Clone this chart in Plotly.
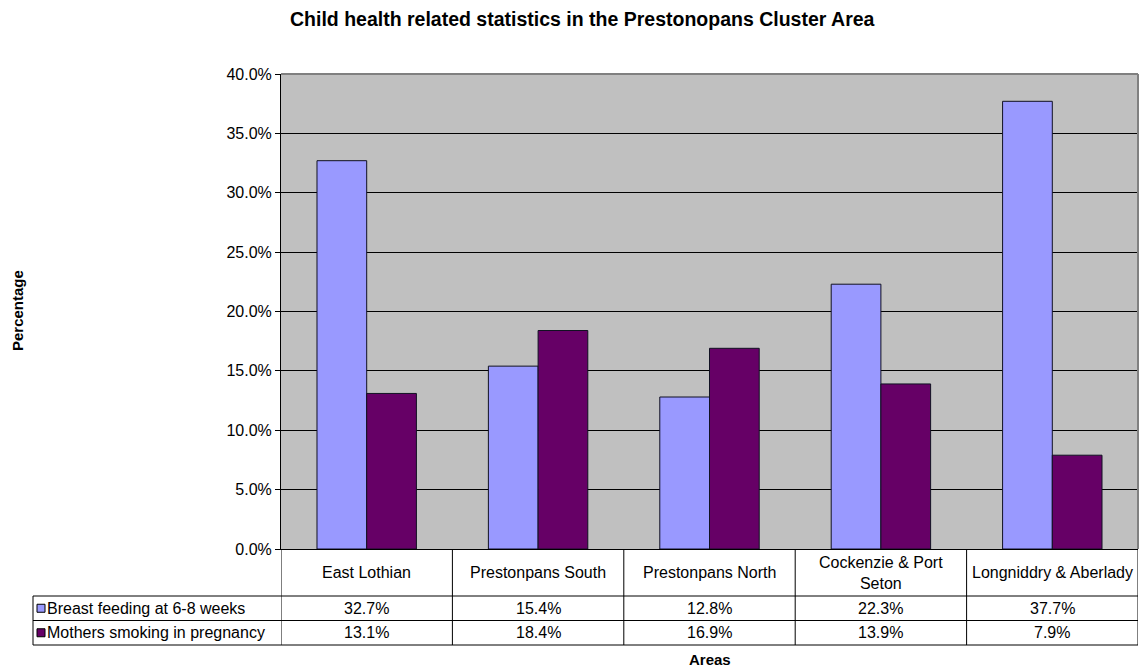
import plotly.graph_objects as go

categories = ["East Lothian", "Prestonpans South", "Prestonpans North",
              "Cockenzie & Port Seton", "Longniddry & Aberlady"]
category_labels = ["East Lothian", "Prestonpans South", "Prestonpans North",
                   "Cockenzie & Port<br>Seton", "Longniddry & Aberlady"]
breast_feeding = [32.7, 15.4, 12.8, 22.3, 37.7]
smoking = [13.1, 18.4, 16.9, 13.9, 7.9]
series_names = ["Breast feeding at 6-8 weeks", "Mothers smoking in pregnancy"]
series_colors = ["#9999FF", "#660066"]
y_ticks = [0, 5, 10, 15, 20, 25, 30, 35, 40]

W, H = 1141, 668
L, R, T, B = 281, 3, 74, 119
plot_h = H - T - B
plot_w = W - L - R
FONT = "Liberation Sans, Arial, sans-serif"


def py(p):
    return (H - B - p) / plot_h


def px(p):
    return (p - L) / plot_w


fig = go.Figure()
for name, vals, col in zip(series_names, [breast_feeding, smoking], series_colors):
    fig.add_trace(go.Bar(
        x=list(range(len(categories))), y=vals, name=name,
        marker=dict(color=col, line=dict(color="#111122", width=1)),
        hovertext=categories,
    ))

shapes = []
line = dict(color="#000000", width=1)
n = len(categories)
# plot top/right border (gray)
shapes.append(dict(type="line", xref="paper", yref="paper", x0=0, x1=1, y0=1, y1=1,
                   line=dict(color="#808080", width=2)))
shapes.append(dict(type="line", xref="paper", yref="paper", x0=1, x1=1, y0=0, y1=1,
                   line=dict(color="#808080", width=2)))
# table rows
row_tops = [549, 596, 620.5, 645]
for yy in row_tops[1:]:
    shapes.append(dict(type="line", xref="paper", yref="paper",
                       x0=px(33), x1=1, y0=py(yy), y1=py(yy), line=line))
# legend column left border
shapes.append(dict(type="line", xref="paper", yref="paper",
                   x0=px(33), x1=px(33), y0=py(596), y1=py(645), line=line))
# column boundaries
for i in range(n + 1):
    shapes.append(dict(type="line", xref="x", yref="paper",
                       x0=i - 0.5, x1=i - 0.5, y0=0, y1=py(645), line=line))
# legend keys
for r, col in enumerate(series_colors):
    yc = (row_tops[r + 1] + row_tops[r + 2]) / 2
    shapes.append(dict(type="rect", xref="paper", yref="paper",
                       x0=px(37), x1=px(45), y0=py(yc - 4), y1=py(yc + 4),
                       fillcolor=col, line=dict(color="#000000", width=1)))

annotations = []
tfont = dict(family=FONT, size=16, color="#000000")
for i, lab in enumerate(category_labels):
    annotations.append(dict(xref="x", yref="paper", x=i, y=py((549 + 596) / 2),
                            text=lab, showarrow=False, font=tfont,
                            xanchor="center", yanchor="middle"))
for r, (name, vals) in enumerate(zip(series_names, [breast_feeding, smoking])):
    yc = (row_tops[r + 1] + row_tops[r + 2]) / 2
    annotations.append(dict(xref="paper", yref="paper", x=px(45), y=py(yc),
                            text=name, showarrow=False, font=tfont,
                            xanchor="left", yanchor="middle"))
    for i, v in enumerate(vals):
        annotations.append(dict(xref="x", yref="paper", x=i, y=py(yc),
                                text=f"{v:.1f}%", showarrow=False, font=tfont,
                                xanchor="center", yanchor="middle"))
# axis titles
annotations.append(dict(xref="paper", yref="paper", x=px(710), y=py(659),
                        text="<b>Areas</b>", showarrow=False,
                        font=dict(family=FONT, size=15, color="#000"),
                        xanchor="center", yanchor="middle"))
annotations.append(dict(xref="paper", yref="paper", x=px(17), y=py(311),
                        text="<b>Percentage</b>", showarrow=False, textangle=-90,
                        font=dict(family=FONT, size=15, color="#000"),
                        xanchor="center", yanchor="middle"))
annotations.append(dict(xref="paper", yref="paper", x=px(582), y=py(19),
                        text="<b>Child health related statistics in the Prestonopans Cluster Area</b>",
                        showarrow=False, font=dict(family=FONT, size=19.5, color="#000"),
                        xanchor="center", yanchor="middle"))

fig.update_layout(
    width=W, height=H,
    margin=dict(l=L, r=R, t=T, b=B, pad=0),
    paper_bgcolor="#FFFFFF", plot_bgcolor="#C0C0C0",
    barmode="group", bargap=0.42, bargroupgap=0,
    showlegend=False,
    font=dict(family=FONT, size=16, color="#000"),
    xaxis=dict(range=[-0.5, n - 0.5], showticklabels=False, showgrid=False,
               zeroline=False, showline=True, linecolor="#000", linewidth=1,
               ticks="", fixedrange=True),
    yaxis=dict(range=[0, 40], tickvals=y_ticks, ticktext=[f"{t:.1f}%" for t in y_ticks],
               showgrid=True, gridcolor="#000000", gridwidth=1, zeroline=False,
               showline=True, linecolor="#000", linewidth=1,
               ticks="outside", ticklen=5, tickcolor="#000",
               tickfont=dict(family=FONT, size=16, color="#000"), fixedrange=True),
    shapes=shapes, annotations=annotations,
)

fig.write_html("out.html", config={"displayModeBar": False},
               post_script="document.body.style.margin='0px';document.body.style.overflow='hidden';")
